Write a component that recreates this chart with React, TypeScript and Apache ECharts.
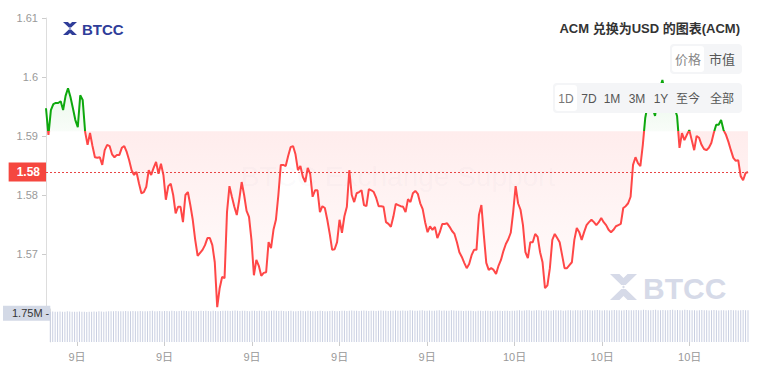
import React, { useEffect, useRef } from 'react';
import * as echarts from 'echarts';

// ---- data ----
const START = { y: 2024, m: 5, d: 9, h: 8, min: 5 }; // first 5-minute bar
const STEP_MIN = 5;
const COUNT = 288;

const pad = (n: number) => (n < 10 ? '0' + n : '' + n);
const times: string[] = [];
for (let i = 0; i < COUNT; i++) {
  const t = new Date(START.y, START.m, START.d, START.h, START.min + i * STEP_MIN);
  times.push(`${pad(t.getMonth() + 1)}-${pad(t.getDate())} ${pad(t.getHours())}:${pad(t.getMinutes())}`);
}

const prices: number[] = [
  1.5947, 1.5902, 1.5944, 1.5954, 1.5956, 1.5956, 1.5959, 1.5944, 1.5968, 1.5981, 1.5966, 1.5947,
  1.5927, 1.5915, 1.5969, 1.5961, 1.5907, 1.5885, 1.5905, 1.5883, 1.5864, 1.5863, 1.5864, 1.5851,
  1.5876, 1.5885, 1.5883, 1.5869, 1.5864, 1.5868, 1.5868, 1.588, 1.5883, 1.5873, 1.5859, 1.5842,
  1.5834, 1.5839, 1.582, 1.5803, 1.5805, 1.5814, 1.5842, 1.5834, 1.5846, 1.5856, 1.5836, 1.5853,
  1.5834, 1.5792, 1.5815, 1.5819, 1.58, 1.5769, 1.578, 1.578, 1.5754, 1.58, 1.5805, 1.5783,
  1.5758, 1.5724, 1.5697, 1.5702, 1.5707, 1.5715, 1.5727, 1.5727, 1.5715, 1.5686, 1.561, 1.5642,
  1.5661, 1.5659, 1.5771, 1.5815, 1.5797, 1.578, 1.5766, 1.5792, 1.5822, 1.58, 1.5773, 1.5763,
  1.5724, 1.5664, 1.569, 1.568, 1.5663, 1.5668, 1.5669, 1.572, 1.571, 1.5741, 1.5758, 1.58,
  1.5851, 1.5851, 1.5849, 1.5866, 1.5881, 1.5883, 1.5869, 1.5842, 1.5849, 1.5831, 1.5822, 1.5846,
  1.5836, 1.5797, 1.5808, 1.5808, 1.5771, 1.5781, 1.5778, 1.5758, 1.5734, 1.5707, 1.5708, 1.572,
  1.5758, 1.5736, 1.5764, 1.578, 1.5842, 1.58, 1.5788, 1.5803, 1.5805, 1.5808, 1.5783, 1.5781,
  1.581, 1.5808, 1.5805, 1.5795, 1.5781, 1.5781, 1.578, 1.5754, 1.5751, 1.5746, 1.5763, 1.5785,
  1.5783, 1.5781, 1.578, 1.5771, 1.5793, 1.5788, 1.5803, 1.5807, 1.5802, 1.5786, 1.5776, 1.5754,
  1.5737, 1.5747, 1.5741, 1.5746, 1.5727, 1.5737, 1.5751, 1.5751, 1.5752, 1.5746, 1.5739, 1.5734,
  1.572, 1.5703, 1.5695, 1.5685, 1.5676, 1.5683, 1.5698, 1.5707, 1.5707, 1.5766, 1.5783, 1.5732,
  1.5685, 1.5673, 1.5676, 1.5673, 1.5666, 1.568, 1.569, 1.5705, 1.5717, 1.5725, 1.5736, 1.5771,
  1.5815, 1.5786, 1.5775, 1.5749, 1.5703, 1.5693, 1.572, 1.572, 1.5734, 1.5729, 1.5703, 1.5686,
  1.5642, 1.5647, 1.5676, 1.5724, 1.5734, 1.5727, 1.572, 1.5698, 1.5676, 1.5676, 1.5681, 1.5686,
  1.5724, 1.5744, 1.5737, 1.5724, 1.5737, 1.5749, 1.5754, 1.5758, 1.5754, 1.5749, 1.5754, 1.5761,
  1.5754, 1.5749, 1.5741, 1.5737, 1.5741, 1.5747, 1.5749, 1.5751, 1.5778, 1.5781, 1.5786, 1.5797,
  1.5851, 1.5864, 1.5854, 1.5849, 1.5885, 1.5931, 1.5953, 1.5961, 1.5947, 1.5934, 1.5961, 1.5981,
  1.5995, 1.5975, 1.5961, 1.5969, 1.5961, 1.5947, 1.5934, 1.588, 1.5905, 1.5893, 1.5902, 1.591,
  1.5893, 1.5876, 1.59, 1.5897, 1.5885, 1.5878, 1.5876, 1.588, 1.5888, 1.5905, 1.5919, 1.5919,
  1.5927, 1.591, 1.5902, 1.589, 1.5876, 1.5863, 1.5858, 1.5859, 1.5832, 1.5825, 1.5837, 1.5839,
];

// volume in millions
const volumesM: number[] = [
  1.84, 1.85, 1.84, 1.83, 1.85, 1.84, 1.84, 1.86, 1.85, 1.84, 1.83, 1.84, 1.85, 1.84, 1.83, 1.82, 1.83, 1.84, 1.85, 1.84, 1.86, 1.85, 1.84, 1.85,
  1.86, 1.87, 1.86, 1.88, 1.87, 1.86, 1.87, 1.88, 1.86, 1.87, 1.88, 1.87, 1.86, 1.88, 1.87, 1.86, 1.87, 1.88, 1.89, 1.87, 1.86, 1.88, 1.87, 1.88,
  1.88, 1.87, 1.89, 1.88, 1.87, 1.88, 1.9, 1.89, 1.88, 1.87, 1.89, 1.88, 1.87, 1.88, 1.89, 1.88, 1.9, 1.88, 1.87, 1.89, 1.88, 1.87, 1.88, 1.89,
  1.9, 1.89, 1.88, 1.9, 1.91, 1.89, 1.88, 1.9, 1.89, 1.88, 1.87, 1.89, 1.9, 1.88, 1.89, 1.9, 1.88, 1.87, 1.89, 1.9, 1.91, 1.89, 1.88, 1.9,
  1.88, 1.87, 1.88, 1.89, 1.87, 1.86, 1.88, 1.89, 1.88, 1.87, 1.89, 1.88, 1.86, 1.87, 1.88, 1.89, 1.88, 1.87, 1.86, 1.88, 1.89, 1.88, 1.87, 1.88,
  1.89, 1.9, 1.88, 1.89, 1.91, 1.9, 1.89, 1.88, 1.9, 1.91, 1.89, 1.88, 1.9, 1.89, 1.88, 1.9, 1.91, 1.9, 1.89, 1.88, 1.9, 1.89, 1.91, 1.9,
  1.9, 1.91, 1.89, 1.9, 1.92, 1.91, 1.9, 1.89, 1.91, 1.92, 1.9, 1.89, 1.91, 1.9, 1.89, 1.91, 1.92, 1.9, 1.91, 1.89, 1.9, 1.92, 1.91, 1.9,
  1.89, 1.9, 1.88, 1.89, 1.9, 1.89, 1.88, 1.87, 1.89, 1.9, 1.88, 1.89, 1.9, 1.88, 1.87, 1.89, 1.9, 1.89, 1.88, 1.9, 1.89, 1.88, 1.89, 1.9,
  1.91, 1.92, 1.9, 1.91, 1.93, 1.92, 1.9, 1.91, 1.92, 1.93, 1.91, 1.9, 1.92, 1.91, 1.9, 1.92, 1.93, 1.91, 1.92, 1.9, 1.91, 1.93, 1.92, 1.91,
  1.92, 1.93, 1.91, 1.92, 1.94, 1.93, 1.92, 1.91, 1.93, 1.94, 1.92, 1.91, 1.93, 1.92, 1.91, 1.93, 1.94, 1.92, 1.93, 1.91, 1.92, 1.94, 1.93, 1.92,
  1.93, 1.94, 1.92, 1.93, 1.95, 1.94, 1.93, 1.92, 1.94, 1.95, 1.93, 1.92, 1.94, 1.93, 1.92, 1.94, 1.95, 1.93, 1.94, 1.92, 1.93, 1.95, 1.94, 1.93,
  1.92, 1.93, 1.91, 1.92, 1.94, 1.93, 1.92, 1.91, 1.93, 1.94, 1.92, 1.91, 1.93, 1.92, 1.91, 1.93, 1.94, 1.92, 1.93, 1.91, 1.92, 1.94, 1.93, 1.92,
];

const BASE_PRICE = 1.5908; // reference price (green above, red below)
const VOL_LABEL = 1750000;
const TITLE = 'ACM 兑换为USD 的图表(ACM)';
const TYPE_BUTTONS = ['价格', '市值'];
const RANGE_BUTTONS = ['1D', '7D', '1M', '3M', '1Y', '至今', '全部'];

const GREEN = '#0ea80e';
const RED = '#ff4747';
const FONT = '"Liberation Sans", Arial, "Noto Sans CJK SC", sans-serif';

const LOGO_D =
  'M0 0H7L10 3L13 0H20L11.6 8.4H8.4Z M0 20H7L10 17L13 20H20L11.6 11.6H8.4Z M10 8.9L11.1 10L10 11.1L8.9 10Z';
echarts.graphic.registerShape('logo', echarts.graphic.extendPath(LOGO_D, {}));

const isLabelIdx = (_i: number, v: string) => {
  const hm = v.split(' ')[1];
  const [h, m] = hm.split(':').map(Number);
  return m === 0 && h % 3 === 0;
};

export default function App() {
  const ref = useRef<HTMLDivElement>(null);
  useEffect(() => {
    if (!ref.current) return;
    const chart = echarts.init(ref.current, undefined, { renderer: 'svg' });
    const redArea = prices.map((v) => Math.min(v, BASE_PRICE));
    const greenArea = prices.map((v) => Math.max(v, BASE_PRICE));
    const volumes = volumesM.map((v) => v * 1e6);

    const txt = (text: string, x: number, y: number, size: number, fill: string, extra: any = {}) => ({
      type: 'text',
      x,
      y,
      z: 100,
      silent: true,
      style: {
        text,
        fill,
        fontSize: size,
        fontFamily: FONT,
        align: 'center',
        verticalAlign: 'middle',
        textAlign: 'center',
        textVerticalAlign: 'middle',
        ...extra,
      },
    });

    const rangeX = [566, 589, 612, 637, 661, 688, 722];

    chart.setOption({
      animation: false,
      textStyle: { fontFamily: FONT },
      grid: [
        { left: 46, right: 19, top: 18, height: 295 },
        { left: 46, right: 19, top: 309, height: 33 },
      ],
      xAxis: [
        { type: 'category', gridIndex: 0, data: times, boundaryGap: false, show: false },
        {
          type: 'category',
          gridIndex: 1,
          data: times,
          boundaryGap: false,
          axisLine: { show: false },
          axisTick: { show: true, interval: isLabelIdx, length: 4, lineStyle: { color: '#ccc' } },
          axisLabel: {
            interval: isLabelIdx,
            color: '#999',
            fontSize: 11,
            margin: 9,
            formatter: (v: string) => `${parseInt(v.split(' ')[0].split('-')[1], 10)}日`,
          },
          splitLine: { show: false },
        },
      ],
      yAxis: [
        {
          type: 'value',
          gridIndex: 0,
          min: 1.56,
          max: 1.61,
          interval: 0.01,
          axisLine: { show: true, lineStyle: { color: '#ddd' } },
          axisTick: { show: true, length: 4, lineStyle: { color: '#ccc' } },
          axisLabel: { color: '#999', fontSize: 11, margin: 8, showMinLabel: false },
          splitLine: { show: false },
        },
        {
          type: 'value',
          gridIndex: 1,
          min: 0,
          max: 2000000,
          interval: VOL_LABEL,
          axisLine: { show: true, lineStyle: { color: '#ddd' } },
          axisTick: { show: false },
          splitLine: { show: false },
          axisLabel: {
            showMinLabel: false,
            showMaxLabel: false,
            margin: 0,
            color: '#333',
            fontSize: 11,
            lineHeight: 13,
            backgroundColor: '#d3d9e6',
            padding: [1, 1, 1, 9],
            formatter: (v: number) => (v === VOL_LABEL ? (v / 1e6).toFixed(2) + 'M -' : ''),
          },
        },
      ],
      visualMap: {
        type: 'piecewise',
        show: false,
        seriesIndex: 2,
        dimension: 1,
        pieces: [
          { gt: 1.5, lte: BASE_PRICE, color: RED },
          { gt: BASE_PRICE, lte: 1.7, color: GREEN },
        ],
        outOfRange: { color: RED },
      },
      series: [
        {
          type: 'line',
          xAxisIndex: 0,
          yAxisIndex: 0,
          data: redArea,
          symbol: 'none',
          silent: true,
          lineStyle: { width: 0, opacity: 0 },
          areaStyle: {
            origin: BASE_PRICE,
            color: new echarts.graphic.LinearGradient(0, 0, 0, 1, [
              { offset: 0, color: 'rgba(255,80,80,0.15)' },
              { offset: 1, color: 'rgba(255,80,80,0.01)' },
            ]),
          },
          z: 1,
        },
        {
          type: 'line',
          xAxisIndex: 0,
          yAxisIndex: 0,
          data: greenArea,
          symbol: 'none',
          silent: true,
          lineStyle: { width: 0, opacity: 0 },
          areaStyle: {
            origin: BASE_PRICE,
            color: new echarts.graphic.LinearGradient(0, 0, 0, 1, [
              { offset: 0, color: 'rgba(20,170,20,0.14)' },
              { offset: 1, color: 'rgba(20,170,20,0.04)' },
            ]),
          },
          z: 1,
        },
        {
          type: 'line',
          xAxisIndex: 0,
          yAxisIndex: 0,
          data: prices,
          symbol: 'none',
          silent: true,
          lineStyle: { width: 2 },
          z: 3,
          markLine: {
            silent: true,
            precision: 4,
            symbol: ['none', 'none'],
            lineStyle: { color: '#e84545', type: [2, 2], width: 1 },
            label: {
              position: 'start',
              distance: 0,
              formatter: (p: any) => Number(p.value).toFixed(2),
              color: '#fff',
              fontWeight: 'bold',
              fontSize: 12,
              backgroundColor: '#f5473f',
              padding: [4, 6, 3, 8],
            },
            data: [{ yAxis: prices[prices.length - 1] }],
          },
        },
        {
          type: 'bar',
          xAxisIndex: 1,
          yAxisIndex: 1,
          data: volumes,
          barWidth: 1,
          silent: true,
          itemStyle: { color: '#c9cfe1' },
        },
      ],
      graphic: [
        // watermark text
        {
          type: 'text',
          x: 398,
          y: 176,
          z: 0,
          silent: true,
          style: {
            text: 'BTCC Exchange Support',
            fill: 'rgba(150,150,165,0.05)',
            fontSize: 28,
            fontFamily: FONT,
            align: 'center',
            verticalAlign: 'middle',
            textAlign: 'center',
            textVerticalAlign: 'middle',
          },
        },
        // bottom-right watermark logo
        { type: 'logo', x: 610, y: 274, scaleX: 1.35, scaleY: 1.3, z: 0, silent: true, style: { fill: '#d6dae8' } },
        txt('BTCC', 643, 288, 30, '#d6dae8', { fontWeight: 'bold', align: 'left', textAlign: 'left' }),
        // top-left logo
        { type: 'logo', x: 63, y: 22, scaleX: 0.7, scaleY: 0.65, z: 100, silent: true, style: { fill: '#2f3d99' } },
        txt('BTCC', 82, 29, 15, '#2f3d99', { fontWeight: 'bold', align: 'left', textAlign: 'left' }),
        // title
        txt(TITLE, 740, 28, 13, '#333', { fontWeight: 'bold', align: 'right', textAlign: 'right' }),
        // type buttons
        { type: 'rect', z: 99, silent: true, shape: { x: 670, y: 44, width: 72, height: 30, r: 4 }, style: { fill: '#f4f5f7' } },
        { type: 'rect', z: 99, silent: true, shape: { x: 672, y: 46, width: 32, height: 26, r: 3 }, style: { fill: '#ffffff' } },
        txt(TYPE_BUTTONS[0], 688, 59, 13, '#888'),
        txt(TYPE_BUTTONS[1], 722, 59, 13, '#555'),
        // range buttons
        { type: 'rect', z: 99, silent: true, shape: { x: 553, y: 83, width: 189, height: 30, r: 4 }, style: { fill: '#f4f5f7' } },
        { type: 'rect', z: 99, silent: true, shape: { x: 555, y: 85, width: 22, height: 26, r: 3 }, style: { fill: '#ffffff' } },
        ...RANGE_BUTTONS.map((b, i) => txt(b, rangeX[i], 99, 12, i === 0 ? '#777' : '#555')),
      ],
    });
    return () => chart.dispose();
  }, []);
  return (
    <div
      ref={ref}
      style={{ position: 'fixed', left: 0, top: 0, width: 767, height: 374, background: '#fff' }}
    />
  );
}
